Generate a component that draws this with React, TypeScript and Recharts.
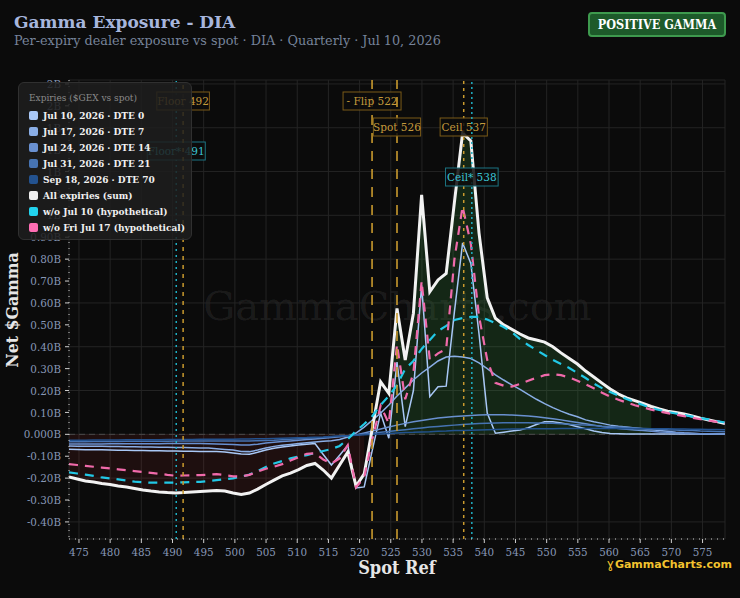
import React from "react";
import { Area, CartesianGrid, ComposedChart, Line, ReferenceLine, XAxis, YAxis } from "recharts";

// spot grid: spot * 0.90 .. spot * 1.10
const SPOT = [
  473.4, 474.72, 476.03, 477.35, 478.66, 479.98, 481.29, 482.61, 483.92, 485.24,
  486.55, 487.87, 489.18, 490.5, 491.81, 493.13, 494.44, 495.76, 497.07, 498.39,
  499.7, 501.02, 502.33, 503.65, 504.96, 506.28, 507.59, 508.91, 510.22, 511.54,
  512.85, 514.17, 515.48, 516.8, 518.11, 519.43, 520.74, 522.06, 523.37, 524.69,
  526.0, 527.32, 528.63, 529.95, 531.26, 532.58, 533.89, 535.21, 536.52, 537.84,
  539.15, 540.47, 541.78, 543.1, 544.41, 545.73, 547.04, 548.36, 549.67, 550.99,
  552.3, 553.62, 554.93, 556.25, 557.56, 558.88, 560.19, 561.51, 562.82, 564.14,
  565.45, 566.77, 568.08, 569.4, 570.71, 572.03, 573.34, 574.66, 575.97, 577.29, 578.6,
];

const JUL10 = [
  -0.068, -0.069, -0.07, -0.071, -0.071, -0.072, -0.073, -0.073, -0.074, -0.074,
  -0.075, -0.075, -0.076, -0.076, -0.077, -0.077, -0.078, -0.078, -0.079, -0.081,
  -0.085, -0.09, -0.091, -0.082, -0.072, -0.064, -0.058, -0.053, -0.049, -0.045,
  -0.042, -0.092, -0.14, -0.096, -0.05, -0.245, -0.24, -0.07, 0.097, -0.018,
  0.33, 0.035, 0.2, 0.68, 0.172, 0.217, 0.22, 0.56, 0.874, 0.78,
  0.46, 0.097, 0.005, 0.01, 0.015, 0.02, 0.03, 0.045, 0.057, 0.057,
  0.052, 0.045, 0.035, 0.025, 0.015, 0.008, 0.004, 0.003, 0.002, 0.002,
  0.002, 0.002, 0.002, 0.001, 0.001, 0.001, 0.001, 0.001, 0.001, 0.001, 0.001,
];

const JUL17 = [
  -0.053, -0.054, -0.054, -0.055, -0.055, -0.056, -0.056, -0.057, -0.057, -0.058,
  -0.058, -0.059, -0.059, -0.06, -0.06, -0.061, -0.062, -0.063, -0.066, -0.069,
  -0.072, -0.078, -0.079, -0.072, -0.062, -0.055, -0.05, -0.046, -0.042, -0.038,
  -0.035, -0.032, -0.029, -0.024, -0.012, 0.006, 0.033, 0.065, 0.097, 0.134,
  0.175, 0.211, 0.248, 0.28, 0.307, 0.335, 0.353, 0.357, 0.353, 0.346,
  0.326, 0.3, 0.272, 0.248, 0.226, 0.205, 0.182, 0.16, 0.14, 0.122,
  0.106, 0.092, 0.08, 0.066, 0.057, 0.05, 0.042, 0.037, 0.033, 0.029,
  0.025, 0.021, 0.017, 0.014, 0.01, 0.007, 0.005, 0.003, 0.002, 0.001, 0.0,
];

const JUL24 = [
  -0.044, -0.044, -0.044, -0.044, -0.044, -0.043, -0.043, -0.043, -0.043, -0.043,
  -0.043, -0.043, -0.042, -0.042, -0.042, -0.042, -0.042, -0.043, -0.044, -0.045,
  -0.046, -0.049, -0.049, -0.045, -0.04, -0.036, -0.033, -0.03, -0.027, -0.024,
  -0.021, -0.018, -0.015, -0.011, -0.007, -0.003, 0.006, 0.015, 0.024, 0.033,
  0.042, 0.05, 0.057, 0.063, 0.069, 0.074, 0.078, 0.081, 0.084, 0.086,
  0.088, 0.089, 0.089, 0.089, 0.088, 0.086, 0.084, 0.08, 0.076, 0.071,
  0.066, 0.06, 0.054, 0.048, 0.042, 0.036, 0.031, 0.027, 0.023, 0.02,
  0.017, 0.014, 0.011, 0.009, 0.007, 0.005, 0.004, 0.003, 0.003, 0.002, 0.002,
];

const JUL31 = [
  -0.034, -0.034, -0.034, -0.033, -0.033, -0.033, -0.033, -0.032, -0.032, -0.032,
  -0.032, -0.032, -0.032, -0.031, -0.031, -0.031, -0.031, -0.031, -0.031, -0.031,
  -0.031, -0.031, -0.03, -0.029, -0.028, -0.027, -0.025, -0.023, -0.02, -0.018,
  -0.016, -0.014, -0.011, -0.009, -0.006, -0.003, 0.001, 0.005, 0.009, 0.013,
  0.017, 0.021, 0.025, 0.029, 0.033, 0.036, 0.039, 0.042, 0.045, 0.047,
  0.049, 0.051, 0.052, 0.053, 0.053, 0.053, 0.053, 0.052, 0.051, 0.05,
  0.048, 0.046, 0.044, 0.042, 0.04, 0.037, 0.035, 0.033, 0.031, 0.029,
  0.027, 0.025, 0.023, 0.021, 0.02, 0.018, 0.017, 0.015, 0.014, 0.013, 0.012,
];

const SEP18 = [
  -0.027, -0.027, -0.027, -0.026, -0.026, -0.026, -0.026, -0.025, -0.025, -0.025,
  -0.025, -0.025, -0.024, -0.024, -0.024, -0.024, -0.023, -0.023, -0.023, -0.022,
  -0.022, -0.021, -0.021, -0.02, -0.02, -0.019, -0.018, -0.017, -0.016, -0.015,
  -0.013, -0.012, -0.01, -0.008, -0.006, -0.004, -0.002, 0.0, 0.002, 0.004,
  0.006, 0.008, 0.009, 0.011, 0.012, 0.014, 0.015, 0.017, 0.018, 0.019,
  0.02, 0.021, 0.022, 0.023, 0.024, 0.024, 0.025, 0.025, 0.026, 0.026,
  0.027, 0.027, 0.027, 0.027, 0.027, 0.027, 0.027, 0.027, 0.026, 0.026,
  0.026, 0.026, 0.025, 0.025, 0.024, 0.024, 0.023, 0.023, 0.022, 0.022, 0.021,
];

const ALL_SUM = [
  -0.195, -0.204, -0.213, -0.218, -0.225, -0.229, -0.236, -0.241, -0.247, -0.254,
  -0.259, -0.263, -0.266, -0.268, -0.266, -0.263, -0.261, -0.259, -0.257, -0.259,
  -0.268, -0.275, -0.268, -0.25, -0.229, -0.209, -0.19, -0.177, -0.161, -0.142,
  -0.133, -0.163, -0.2, -0.14, -0.081, -0.236, -0.181, 0.03, 0.24, 0.187,
  0.575, 0.339, 0.553, 1.093, 0.651, 0.705, 0.735, 1.06, 1.376, 1.34,
  0.92, 0.623, 0.53, 0.5, 0.48, 0.458, 0.44, 0.431, 0.421, 0.4,
  0.372, 0.346, 0.321, 0.289, 0.262, 0.234, 0.207, 0.184, 0.166, 0.154,
  0.141, 0.127, 0.116, 0.106, 0.1, 0.093, 0.084, 0.074, 0.065, 0.058, 0.049,
];

const WITHOUT_JUL10 = [
  -0.174, -0.179, -0.184, -0.19, -0.197, -0.201, -0.206, -0.211, -0.216, -0.219,
  -0.221, -0.221, -0.221, -0.221, -0.219, -0.218, -0.217, -0.213, -0.209, -0.205,
  -0.201, -0.193, -0.184, -0.168, -0.149, -0.133, -0.122, -0.11, -0.101, -0.095,
  -0.085, -0.076, -0.067, -0.053, -0.022, 0.015, 0.047, 0.084, 0.134, 0.175,
  0.225, 0.298, 0.335, 0.39, 0.431, 0.472, 0.495, 0.522, 0.531, 0.536,
  0.536, 0.524, 0.508, 0.49, 0.467, 0.435, 0.408, 0.385, 0.362, 0.34,
  0.321, 0.303, 0.28, 0.257, 0.232, 0.211, 0.193, 0.177, 0.161, 0.147,
  0.134, 0.12, 0.111, 0.102, 0.095, 0.088, 0.081, 0.074, 0.068, 0.061, 0.054,
];

const WITHOUT_JUL17 = [
  -0.136, -0.14, -0.144, -0.148, -0.152, -0.156, -0.16, -0.164, -0.168, -0.172,
  -0.176, -0.18, -0.185, -0.189, -0.188, -0.187, -0.186, -0.184, -0.182, -0.186,
  -0.192, -0.192, -0.185, -0.17, -0.157, -0.148, -0.136, -0.12, -0.104, -0.089,
  -0.087, -0.115, -0.133, -0.11, -0.05, -0.242, -0.197, -0.02, 0.13, 0.05,
  0.41, 0.16, 0.28, 0.7, 0.34, 0.37, 0.39, 0.8, 1.04, 0.87,
  0.54, 0.34, 0.235, 0.222, 0.218, 0.23, 0.245, 0.258, 0.27, 0.275,
  0.27, 0.26, 0.245, 0.228, 0.21, 0.19, 0.172, 0.158, 0.145, 0.133,
  0.123, 0.113, 0.104, 0.097, 0.09, 0.083, 0.076, 0.069, 0.063, 0.057, 0.051,
];

const X_TICKS = [475, 480, 485, 490, 495, 500, 505, 510, 515, 520, 525, 530, 535, 540, 545, 550, 555, 560, 565, 570, 575];
const Y_TICKS = [-0.4, -0.3, -0.2, -0.1, 0, 0.1, 0.2, 0.3, 0.4, 0.5, 0.6, 0.7, 0.8, 0.9, 1.0, 1.1, 1.2, 1.3, 1.4, 1.5, 1.6];

// key levels (line position, tag text)
const LEVELS = [
  { key: "floorAlt", value: 490.6, text: "Floor* 491" },
  { key: "floor", value: 491.7, text: "Floor 492" },
  { key: "flip", value: 522, text: "- Flip 522" },
  { key: "spot", value: 526, text: "Spot 526" },
  { key: "ceil", value: 536.7, text: "Ceil 537" },
  { key: "ceilAlt", value: 538, text: "Ceil* 538" },
];

const SERIES = [
  { key: "jul10", name: "Jul 10, 2026 · DTE 0", color: "#a9c8f6", values: JUL10 },
  { key: "jul17", name: "Jul 17, 2026 · DTE 7", color: "#8aaee6", values: JUL17 },
  { key: "jul24", name: "Jul 24, 2026 · DTE 14", color: "#6990d0", values: JUL24 },
  { key: "jul31", name: "Jul 31, 2026 · DTE 21", color: "#4673b2", values: JUL31 },
  { key: "sep18", name: "Sep 18, 2026 · DTE 70", color: "#23528f", values: SEP18 },
];

const GOLD = "#c99a2e";
const CYAN = "#1fb0c4";
const SERIF = "'DejaVu Serif', serif";
const SERIF_COND = "'DejaVu Serif Condensed', 'DejaVu Serif', serif";

const levelStyle: Record<string, { top: number; color: string; text: string; border: string; dash: string; width: number }> = {
  floorAlt: { top: 151, color: CYAN, text: "#3cc6d6", border: "#1c7583", dash: "2 4", width: 1.5 },
  floor: { top: 101, color: GOLD, text: "#c49a3c", border: "#7a5a18", dash: "4 5", width: 1.5 },
  flip: { top: 101, color: GOLD, text: "#c49a3c", border: "#7a5a18", dash: "10 8", width: 1.6 },
  spot: { top: 127, color: GOLD, text: "#c49a3c", border: "#7a5a18", dash: "10 8", width: 1.6 },
  ceil: { top: 127, color: GOLD, text: "#c49a3c", border: "#7a5a18", dash: "3 4", width: 1.5 },
  ceilAlt: { top: 177, color: CYAN, text: "#3cc6d6", border: "#1c7583", dash: "2 3", width: 1.5 },
};

const rows = SPOT.map((spot, i) => ({
  spot,
  jul10: JUL10[i],
  jul17: JUL17[i],
  jul24: JUL24[i],
  jul31: JUL31[i],
  sep18: SEP18[i],
  all: ALL_SUM[i],
  noJul10: WITHOUT_JUL10[i],
  noJul17: WITHOUT_JUL17[i],
  pos: i >= 39 && i <= 71 ? Math.max(ALL_SUM[i], 0) : null,
  neg: i <= 36 ? Math.min(ALL_SUM[i], 0) : null,
}));

const fmtB = (v: number) => {
  if (v === 0) return "0.000B";
  return Math.abs(v) < 1 ? `${v.toFixed(2)}B` : `${v.toFixed(0)}B`;
};

function LevelTag(props: any) {
  const { viewBox, text, top, color, border } = props;
  if (!viewBox) return null;
  const x = viewBox.x;
  const w = text.length * 5.4 + 4;
  return (
    <g>
      <rect x={x - w / 2} y={top - 9} width={w} height={18} fill="rgba(12,12,12,0.85)" stroke={border} strokeWidth={1} />
      <text x={x} y={top + 4} textAnchor="middle" fill={color} fontSize={10.5} fontFamily={SERIF}>
        {text}
      </text>
    </g>
  );
}

const legendItems = [
  ...SERIES.map((s) => ({ name: s.name, color: s.color })),
  { name: "All expiries (sum)", color: "#eeeeee" },
  { name: "w/o Jul 10 (hypothetical)", color: "#22d3ee" },
  { name: "w/o Fri Jul 17 (hypothetical)", color: "#ff6eb4" },
];

export default function App() {
  return (
    <div style={{ position: "fixed", left: 0, top: 0, width: 740, height: 598, background: "#0b0b0b", overflow: "hidden", fontFamily: SERIF }}>
      <div style={{ position: "absolute", left: 14, top: 12, fontSize: 17, fontWeight: 700, color: "#a7b6dd" }}>
        Gamma Exposure - DIA
      </div>
      <div style={{ position: "absolute", left: 14, top: 33, fontSize: 12.8, color: "#76839a", whiteSpace: "nowrap" }}>
        Per-expiry dealer exposure vs spot · DIA · Quarterly · Jul 10, 2026
      </div>
      <div
        style={{
          position: "absolute",
          left: 588,
          top: 12,
          width: 134,
          height: 21,
          border: "2px solid #3e9a4e",
          borderRadius: 4,
          background: "#1d5a2a",
          color: "#ffffff",
          fontSize: 12.5,
          fontWeight: 700,
          lineHeight: "21px",
          textAlign: "center",
          whiteSpace: "nowrap",
          fontFamily: SERIF_COND,
        }}
      >
        POSITIVE GAMMA
      </div>

      <div style={{ position: "absolute", left: 0, width: 795, top: 283, fontSize: 40, color: "rgba(255,255,255,0.08)", textAlign: "center" }}>
        GammaCharts.com
      </div>

      <div style={{ position: "absolute", left: 0, top: 0 }}>
        <ComposedChart width={740} height={598} data={rows} margin={{ top: 80, right: 15, bottom: 29, left: 0 }}>
          <CartesianGrid stroke="#242424" strokeWidth={1} />
          <XAxis
            type="number"
            dataKey="spot"
            domain={[473.4, 578.6]}
            ticks={X_TICKS}
            allowDataOverflow
            height={30}
            tick={{ fontSize: 11.5, fill: "#8797b6", fontFamily: SERIF_COND }}
            tickSize={4}
            tickMargin={5}
            axisLine={{ stroke: "#cfcfcf", strokeDasharray: "1 5" }}
            tickLine={{ stroke: "#cfcfcf" }}
          />
          <YAxis
            type="number"
            domain={[-0.478, 1.618]}
            ticks={Y_TICKS}
            allowDataOverflow
            width={69}
            tickFormatter={fmtB}
            tick={{ fontSize: 11.5, fill: "#8797b6", fontFamily: SERIF_COND }}
            tickSize={4}
            tickMargin={4}
            axisLine={{ stroke: "#cfcfcf", strokeDasharray: "1 5" }}
            tickLine={{ stroke: "#cfcfcf" }}
          />
          <Area dataKey="neg" type="linear" baseValue={0} stroke="none" fill="#a33030" fillOpacity={0.13} isAnimationActive={false} />
          <Area dataKey="pos" type="linear" baseValue={0} stroke="none" fill="#3a9a48" fillOpacity={0.2} isAnimationActive={false} />
          <ReferenceLine y={0} stroke="#4a4a4a" strokeDasharray="6 4" />
          {SERIES.map((s) => (
            <Line
              key={s.key}
              dataKey={s.key}
              type="linear"
              stroke={s.color}
              strokeWidth={1.5}
              dot={false}
              isAnimationActive={false}
            />
          ))}
          <Line dataKey="all" type="linear" stroke="#f2f2f2" strokeWidth={3} dot={false} isAnimationActive={false} />
          <Line dataKey="noJul10" type="linear" stroke="#22c8e6" strokeWidth={2.2} strokeDasharray="9 7" dot={false} isAnimationActive={false} />
          <Line dataKey="noJul17" type="linear" stroke="#f06aaa" strokeWidth={2.2} strokeDasharray="9 7" dot={false} isAnimationActive={false} />
          {LEVELS.map((lv) => {
            const st = levelStyle[lv.key];
            return (
              <ReferenceLine
                key={lv.key}
                x={lv.value}
                stroke={st.color}
                strokeWidth={st.width}
                strokeDasharray={st.dash}
                label={<LevelTag text={lv.text} top={st.top} color={st.text} border={st.border} />}
              />
            );
          })}
        </ComposedChart>
      </div>

      <div style={{ position: "absolute", left: 12, top: 310, width: 0, height: 0 }}>
        <div
          style={{
            position: "absolute",
            transform: "translate(-50%, -50%) rotate(-90deg)",
            fontSize: 17.5,
            fontWeight: 700,
            color: "#e6e6e6",
            whiteSpace: "nowrap",
            fontFamily: SERIF_COND,
          }}
        >
          Net $Gamma
        </div>
      </div>
      <div style={{ position: "absolute", left: 0, width: 794, top: 557, textAlign: "center", fontSize: 18, fontWeight: 700, color: "#e6e6e6", fontFamily: SERIF_COND }}>
        Spot Ref
      </div>
      <div style={{ position: "absolute", right: 8, top: 557, fontSize: 11, fontWeight: 700, color: "#f2c230", fontFamily: "'DejaVu Sans', sans-serif", textShadow: "0 0 2px #000", whiteSpace: "nowrap" }}>
        <span style={{ fontSize: 12, fontWeight: 400, marginRight: 1 }}>ɣ</span>GammaCharts.com
      </div>

      <div
        style={{
          position: "absolute",
          left: 18,
          top: 82,
          width: 174,
          height: 158,
          boxSizing: "border-box",
          background: "rgba(30,30,30,0.86)",
          border: "1px solid #303030",
          borderRadius: 6,
          padding: "9px 0 0 10px",
        }}
      >
        <div style={{ fontSize: 10, color: "#8a8a8a", marginBottom: 5, fontFamily: SERIF_COND, whiteSpace: "nowrap" }}>Expiries ($GEX vs spot)</div>
        {legendItems.map((it) => (
          <div key={it.name} style={{ display: "flex", alignItems: "center", height: 15.9 }}>
            <span style={{ width: 9, height: 9, borderRadius: 2, background: it.color, marginRight: 5, flex: "none" }} />
            <span style={{ fontSize: 10, fontWeight: 700, color: "#f0f0f0", whiteSpace: "nowrap", fontFamily: SERIF_COND }}>{it.name}</span>
          </div>
        ))}
      </div>
    </div>
  );
}
